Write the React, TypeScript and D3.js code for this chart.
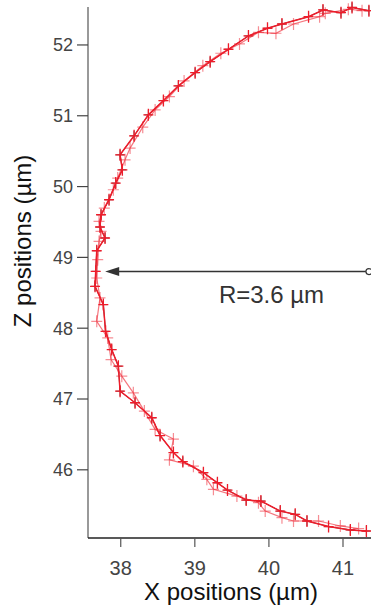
import React from "react";
import * as d3 from "d3";

// Series A (solid red) – X, Z positions in µm
const seriesAX = [41.35, 41.122, 40.973, 40.730, 40.535, 40.176, 39.981, 39.724, 39.454, 39.207, 39.004, 38.778, 38.576, 38.373, 38.180, 37.991, 38.022, 37.932, 37.842, 37.734, 37.720, 37.788, 37.676, 37.662, 37.653, 37.765, 37.795, 37.878, 37.968, 37.991, 38.193, 38.419, 38.531, 38.711, 38.838, 39.116, 39.305, 39.441, 39.693, 39.892, 40.153, 40.355, 40.514, 40.805, 41.099, 41.316];
const seriesAZ = [52.484, 52.530, 52.456, 52.494, 52.399, 52.296, 52.236, 52.127, 51.939, 51.764, 51.609, 51.422, 51.214, 51.013, 50.717, 50.449, 50.237, 50.049, 49.814, 49.602, 49.429, 49.274, 49.094, 48.803, 48.591, 48.333, 47.956, 47.698, 47.463, 47.110, 46.947, 46.735, 46.484, 46.244, 46.117, 45.959, 45.817, 45.714, 45.573, 45.559, 45.417, 45.371, 45.277, 45.198, 45.151, 45.136];

// Series B (light red)
const seriesBX = [41.257, 41.072, 40.761, 40.684, 40.332, 40.095, 39.859, 39.603, 39.351, 39.108, 38.855, 38.657, 38.464, 38.297, 38.126, 38.058, 37.959, 37.900, 37.778, 37.707, 37.734, 37.707, 37.689, 37.676, 37.720, 37.676, 37.824, 37.869, 38.014, 38.170, 38.319, 38.464, 38.711, 38.657, 38.981, 39.162, 39.251, 39.568, 39.859, 39.950, 40.176, 40.332, 40.670, 40.964, 41.211];
const seriesBZ = [52.484, 52.504, 52.447, 52.399, 52.296, 52.165, 52.179, 52.014, 51.883, 51.708, 51.492, 51.271, 51.083, 50.839, 50.543, 50.378, 50.120, 49.955, 49.697, 49.508, 49.367, 49.226, 48.968, 48.709, 48.427, 48.097, 47.863, 47.557, 47.322, 47.087, 46.829, 46.570, 46.434, 46.141, 46.052, 45.865, 45.724, 45.629, 45.536, 45.417, 45.324, 45.277, 45.277, 45.207, 45.170];

const xTicks = [38, 39, 40, 41];
const zTicks = [46, 47, 48, 49, 50, 51, 52];
const xDomain = [37.558, 41.378];
const zDomain = [45.037, 52.536];

const arrowZ = 48.8;
const arrowFromX = 41.35;
const arrowToX = 37.79;
const radiusLabel = "R=3.6 µm";
const xTitle = "X positions (µm)";
const zTitle = "Z positions (µm)";

const W = 371;
const H = 613;
const FONT = "'Liberation Sans', Arial, sans-serif";

export default function App() {
  const x = d3.scaleLinear().domain(xDomain).range([88, 371]);
  const y = d3.scaleLinear().domain(zDomain).range([538, 7]);

  const line = d3
    .line<[number, number]>()
    .x((d) => x(d[0]))
    .y((d) => y(d[1]));

  const ptsA: [number, number][] = seriesAX.map((v, i) => [v, seriesAZ[i]]);
  const ptsB: [number, number][] = seriesBX.map((v, i) => [v, seriesBZ[i]]);

  const plus = (
    pts: [number, number][],
    color: string,
    op: number,
    key: string,
    hw: number,
    hh: number,
    sw: number
  ) =>
    pts.map((p, i) => {
      const cx = x(p[0]);
      const cy = y(p[1]);
      return (
        <path
          key={key + i}
          d={`M${cx - hw},${cy}H${cx + hw}M${cx},${cy - hh}V${cy + hh}`}
          stroke={color}
          strokeOpacity={op}
          strokeWidth={sw}
          fill="none"
        />
      );
    });

  const red = "#ee1c2a";
  const ay = y(arrowZ);
  const ax0 = x(arrowFromX);
  const ax1 = x(arrowToX);

  return (
    <svg
      width={W}
      height={H}
      style={{ position: "absolute", left: 0, top: 0, background: "#fff" }}
      fontFamily={FONT}
    >
      {/* data */}
      <path d={line(ptsA) || ""} fill="none" stroke="#222" strokeWidth={0.8} />
      {plus(ptsA, "#222", 1, "k", 4, 5, 0.8)}
      <path d={line(ptsB) || ""} fill="none" stroke={red} strokeOpacity={0.6} strokeWidth={1.2} />
      {plus(ptsB, red, 0.5, "b", 5.5, 6, 1.2)}
      <path d={line(ptsA) || ""} fill="none" stroke={red} strokeWidth={1.5} />
      {plus(ptsA, red, 1, "a", 5, 6, 1.3)}

      {/* axes */}
      <line x1={88} x2={88} y1={7} y2={538} stroke="#777" strokeWidth={1.5} />
      <line x1={88} x2={371} y1={538} y2={538} stroke="#222" strokeWidth={1.5} />
      {zTicks.map((t) => (
        <g key={"z" + t}>
          <line x1={77} x2={88} y1={y(t)} y2={y(t)} stroke="#444" strokeWidth={1.2} />
          <text x={73} y={y(t)} dy="0.36em" textAnchor="end" fontSize={18} fill="#444">
            {t}
          </text>
        </g>
      ))}
      {xTicks.map((t) => (
        <g key={"x" + t}>
          <line x1={x(t)} x2={x(t)} y1={538} y2={547} stroke="#555" strokeWidth={1.2} />
          <text x={x(t)} y={575} textAnchor="middle" fontSize={20} fill="#444">
            {t}
          </text>
        </g>
      ))}
      <text x={231} y={600} textAnchor="middle" fontSize={24} fill="#111">
        {xTitle}
      </text>
      <text
        transform={`translate(31,${241}) rotate(-90)`}
        textAnchor="middle"
        fontSize={24}
        fill="#111"
      >
        {zTitle}
      </text>

      {/* radius arrow */}
      <line x1={ax0 - 3} x2={ax1 + 12} y1={ay} y2={ay} stroke="#333" strokeWidth={1.5} />
      <path d={`M${ax1},${ay}L${ax1 + 14},${ay - 4.5}L${ax1 + 14},${ay + 4.5}Z`} fill="#333" />
      <circle cx={ax0} cy={ay} r={3} fill="#fff" stroke="#333" strokeWidth={1.2} />
      <text x={271.5} y={303} textAnchor="middle" fontSize={24} fill="#333">
        {radiusLabel}
      </text>
    </svg>
  );
}
